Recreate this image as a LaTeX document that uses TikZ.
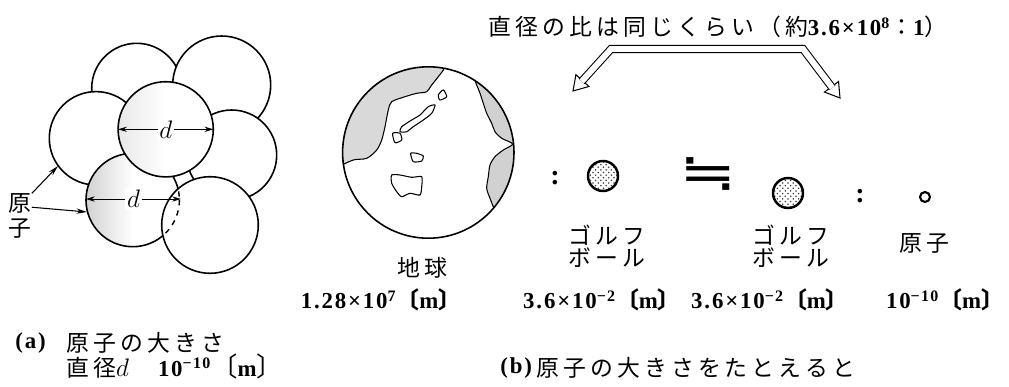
\documentclass[tikz,border=0pt]{standalone}
\usepackage{fontspec}
\setmainfont{Liberation Serif}[LetterSpace=8]
\newfontfamily\jp{Noto Sans CJK JP}[LetterSpace=18]
\newfontfamily\symb{DejaVu Sans}
\usepackage{tikz}
\usetikzlibrary{%
  arrows.meta,%
  calc,%
  patterns,%
  positioning}

\newcommand{\chiffre}[1]{{\rmfamily\bfseries\fontsize{13}{15}\selectfont #1}}
\newcommand{\metre}{{\jp〔}\chiffre{m}{\jp〕}}

\begin{document}
\begin{tikzpicture}[x=0.02cm,y=-0.02cm,
  atome/.style={draw, line width=0.9pt, fill=white},
  cote/.style={{Stealth[length=5pt,width=3pt]}-{Stealth[length=5pt,width=3pt]}, line width=0.5pt},
  fleche/.style={-{Stealth[length=6pt,width=3pt]}, line width=0.6pt},
  balle/.style={draw, line width=1.4pt, pattern=crosshatch dots, pattern color=black!75},
  texte/.style={inner sep=0pt, font=\jp\fontsize{13}{15}\selectfont},
  nombre/.style={inner sep=0pt, font=\rmfamily\bfseries\fontsize{13}{15}\selectfont},
  trait/.style={line width=0.6pt, line join=miter}]
\useasboundingbox (0,0) rectangle (1009,386);

% (a) empilement des atomes
\draw[atome] (136.7,88.3) circle (45);
\draw[atome] (221.7,85) circle (49);
\draw[atome] (96,138.3) circle (46.7);
\draw[atome] (231.7,155) circle (45);
\draw[atome, left color=black!18, right color=white, middle color=white] (132.7,200) circle (46.7);
\draw[atome, left color=black!9, right color=white, middle color=white] (165.7,129.3) circle (47.6);
\draw[atome] (210,225) circle (48.3);
\begin{scope}
  \clip (210,225) circle (48.3);
  \draw[dashed, line width=0.8pt] (132.7,200) circle (46.7);
\end{scope}

\coordinate (d1g) at (118.1,129.3);
\coordinate (d1d) at (213.3,129.3);
\coordinate (d2g) at (86,199);
\coordinate (d2d) at (181,199);
\draw[cote] (d1g) -- node (cd1) [fill=white, inner sep=1pt, font=\fontsize{15}{15}\selectfont] {$d$} (d1d);
\draw[cote] (d2g) -- node (cd2) [fill=white, inner sep=1pt, font=\fontsize{15}{15}\selectfont] {$d$} (d2d);

\node (gensi) at (20,216) [texte, align=center, font=\jp\fontsize{13}{14}\selectfont] {原\\子};
\coordinate (p1) at (58,166);
\coordinate (p2) at (87,212);
\draw[fleche] (gensi.north east) -- (p1);
\draw[fleche] ([yshift=5pt]gensi.east) -- (p2);

\node (capa) at (15,343) [nombre, anchor=west] {(a)};
\node (capa1) at (66,343) [texte, anchor=west] {原子の大きさ};
\node (capa2) at (66,366) [texte, anchor=west] {直径\fontsize{15}{15}\selectfont$d$\hspace{1.1em}\chiffre{10\textsuperscript{−10}}\metre};

% (b) la terre
\begin{scope}
  \clip (428.3,152.5) circle (85.7);
  \fill[black!15] plot[smooth, tension=0.5] coordinates {(446,62) (443.3,70) (431.7,85) (426.7,91.7)
    (416.7,93.3) (405,96.7) (391.7,101.7) (388.3,110) (385,126.7) (381.7,140) (376.7,150)
    (366.7,158.3) (353.3,160) (338,167)} -- (320,170) -- (320,40) -- (450,40) -- cycle;
  \fill[black!18] plot[smooth, tension=0.5] coordinates {(474,78) (476.7,85) (480,93.3) (483.3,103.3)
    (486.7,113.3) (491.7,123.3) (495,131.7) (501.7,138.3) (512.7,144) (503.3,150) (495,156.7)
    (490,165) (488.3,176.7) (486.7,188.3) (490,198.3) (493.3,206.7) (497,214)}
    -- (530,214) -- (530,70) -- cycle;
  \draw[trait] plot[smooth, tension=0.5] coordinates {(446,62) (443.3,70) (431.7,85) (426.7,91.7)
    (416.7,93.3) (405,96.7) (391.7,101.7) (388.3,110) (385,126.7) (381.7,140) (376.7,150)
    (366.7,158.3) (353.3,160) (338,167)};
  \draw[trait] plot[smooth, tension=0.5] coordinates {(474,78) (476.7,85) (480,93.3) (483.3,103.3)
    (486.7,113.3) (491.7,123.3) (495,131.7) (501.7,138.3) (512.7,144) (503.3,150) (495,156.7)
    (490,165) (488.3,176.7) (486.7,188.3) (490,198.3) (493.3,206.7) (497,214)};
\end{scope}
\draw[line width=0.9pt] (428.3,152.5) circle (85.7);
% iles
\draw[trait, fill=white] plot[smooth cycle, tension=0.4] coordinates {(435,105) (431.7,113.3)
  (423.3,120) (413.3,126.7) (406.7,131.7) (400,131.7) (401.7,126.7) (411.7,120) (420,115) (428.3,106.7)};
\draw[trait, fill=white] plot[smooth cycle, tension=0.4] coordinates {(438.3,95) (443.3,90) (446.7,96.7) (440,100)};
\draw[trait, fill=white] plot[smooth cycle, tension=0.4] coordinates {(392.7,133.3) (400,133.3) (401.7,140) (395,142.7)};
\draw[trait, fill=white] plot[smooth cycle, tension=0.4] coordinates {(410.7,153.3) (416.7,153.3)
  (423.3,156) (421.7,161) (413.3,161.7)};
\draw[trait, fill=white] plot[smooth cycle, tension=0.4] coordinates {(391.7,175) (400,175) (411.7,177.3)
  (421.7,176.7) (421.7,186.7) (420,195) (410,193.3) (401.7,196.7) (396.7,191.7) (391.7,183.3)};

\node (terre) at (422,268) [texte] {地球};
\node (dterre) at (381,300) [nombre] {1.28×10\textsuperscript{7}\metre};

% balles et atome
\node (deux1) at (555,178) [nombre, font=\rmfamily\bfseries\fontsize{16}{16}\selectfont] {:};
\draw[balle] (603,176) circle (15);
\node (env) at (708,174) [inner sep=0pt, font=\symb\fontsize{30}{30}\selectfont] {\scalebox{1.3}[1]{≒}};
\draw[balle] (788,193) circle (15);
\node (deux2) at (860,196) [nombre, font=\rmfamily\bfseries\fontsize{16}{16}\selectfont] {:};
\draw[line width=1.2pt] (925,197) circle (5);

\node (golf1) at (607,246) [texte, align=center, font=\jp\fontsize{13}{12.5}\selectfont] {ゴルフ\\ボール};
\node (golf2) at (791,246) [texte, align=center, font=\jp\fontsize{13}{12.5}\selectfont] {ゴルフ\\ボール};
\node (atom) at (924,243) [texte] {原子};

\node (dgolf1) at (602,300) [nombre] {3.6×10\textsuperscript{−2}\metre};
\node (dgolf2) at (770,300) [nombre] {3.6×10\textsuperscript{−2}\metre};
\node (datom) at (945,300) [nombre] {10\textsuperscript{−10}\metre};

\node (capb) at (500,368) [nombre, anchor=west] {(b)};
\node (capb1) at (536,368) [texte, anchor=west] {原子の大きさをたとえると};

% rapport des diametres
\node (titre) at (718,27) [texte] {直径の比は同じくらい（約\chiffre{3.6×10\textsuperscript{8}}：\chiffre{1}）};
\coordinate (t1) at (573,91);
\coordinate (k1) at (611,49);
\coordinate (k2) at (803,49);
\coordinate (t2) at (840,98);
\coordinate (b1) at ($(t1)!8pt!(k1)$);
\coordinate (b2) at ($(t2)!8pt!(k2)$);
\draw[trait, fill=white] (t1) -- ($(b1)!5pt!90:(t1)$) -- ($(b1)!5pt!-90:(t1)$) -- cycle;
\draw[trait, fill=white] (t2) -- ($(b2)!5pt!90:(t2)$) -- ($(b2)!5pt!-90:(t2)$) -- cycle;
\draw[trait, double=white, double distance=3.4pt] ($(b1)!0.7pt!(t1)$) -- (k1) -- (k2) -- ($(b2)!0.7pt!(t2)$);
\end{tikzpicture}
\end{document}
